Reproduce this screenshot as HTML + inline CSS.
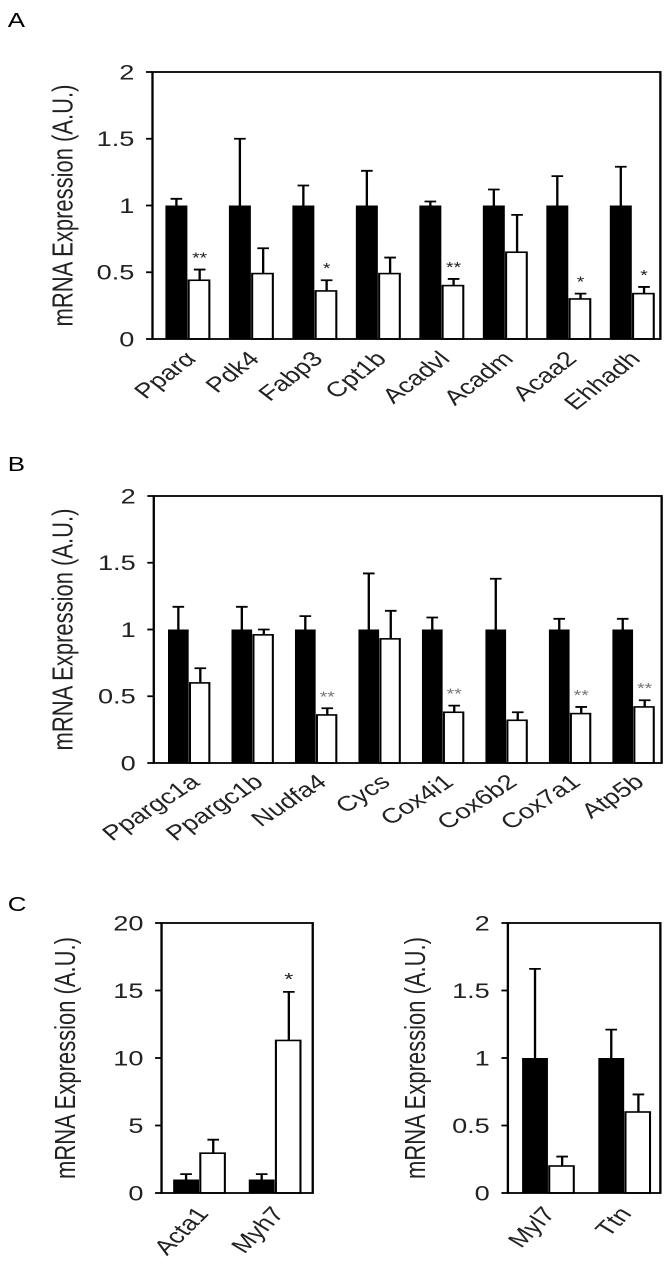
<!DOCTYPE html>
<html><head><meta charset="utf-8"><style>
body{margin:0;background:#fff;}
svg{display:block;font-family:"Liberation Sans",sans-serif;}
</style></head><body>
<svg id="fig" width="672" height="1271" viewBox="0 0 520 1271" preserveAspectRatio="none">
<text x="6" y="27" font-size="20">A</text>
<text x="6" y="471" font-size="20">B</text>
<text x="6" y="911" font-size="20">C</text>
</svg>
<script>
const catsA = ["Ppar\u03b1","Pdk4","Fabp3","Cpt1b","Acadvl","Acadm","Acaa2","Ehhadh"];
const ctrlA = [1,1,1,1,1,1,1,1];
const ctrlErrA = [1.05,1.5,1.15,1.26,1.03,1.12,1.22,1.29];
const koA = [0.44,0.49,0.36,0.49,0.40,0.65,0.30,0.34];
const koErrA = [0.52,0.68,0.44,0.61,0.45,0.93,0.34,0.39];
const sigA = ["**","","*","","**","","*","*"];
const ticksA = [0,0.5,1,1.5,2];
const tickLabelsA = ["0","0.5","1","1.5","2"];

const catsB = ["Ppargc1a","Ppargc1b","Nudfa4","Cycs","Cox4i1","Cox6b2","Cox7a1","Atp5b"];
const ctrlB = [1,1,1,1,1,1,1,1];
const ctrlErrB = [1.17,1.17,1.10,1.42,1.09,1.38,1.08,1.08];
const koB = [0.60,0.96,0.36,0.93,0.38,0.32,0.37,0.42];
const koErrB = [0.71,1.00,0.41,1.14,0.43,0.38,0.42,0.47];
const sigB = ["","","**","","**","","**","**"];

const catsC1 = ["Acta1","Myh7"];
const ctrlC1 = [1,1];
const ctrlErrC1 = [1.4,1.4];
const koC1 = [2.95,11.3];
const koErrC1 = [3.95,14.9];
const sigC1 = ["","*"];
const ticksC1 = [0,5,10,15,20];
const tickLabelsC1 = ["0","5","10","15","20"];

const catsC2 = ["Myl7","Ttn"];
const ctrlC2 = [1,1];
const ctrlErrC2 = [1.66,1.21];
const koC2 = [0.20,0.60];
const koErrC2 = [0.27,0.73];
const sigC2 = ["",""];

const NS="http://www.w3.org/2000/svg";
const svg=document.getElementById('fig');
function mk(tag,attrs,parent){const e=document.createElementNS(NS,tag);for(const k in attrs)e.setAttribute(k,attrs[k]);(parent||svg).appendChild(e);return e;}

function chart(cfg){
  const g=mk('g',{});
  
  
  const {x0,x1,y0,y1,ymax}=cfg;
  const yS=v=>y1-(v/ymax)*(y1-y0);
  const n=cfg.cats.length, gw=(x1-x0)/n;
  cfg.ticks.forEach((t,i)=>{
    const y=yS(t);
    const tk=mk('line',{x1:x0-5,x2:x0,y1:y,y2:y,stroke:'#000','stroke-width':1.8},g);
    
    
    const tl=mk('text',{x:x0-14,y:y+7.5,'font-size':21,'text-anchor':'end',fill:'#222'},g);
    tl.textContent=cfg.tickLabels[i];
    
    
  });
  const tt=mk('text',{x:0,y:0,'font-size':22,'text-anchor':'middle',fill:'#222',transform:`translate(${cfg.titleX},${(y0+y1)/2}) rotate(-90)`},g);
  tt.textContent='mRNA Expression (A.U.)';
  
  
  cfg.cats.forEach((c,i)=>{
    const gx=x0+gw*i;
    const bx=gx+cfg.off, wx=bx+cfg.bw+1;
    const ey=yS(cfg.ctrlErr[i]);
    const e1=mk('path',{d:`M${bx+cfg.bw/2} ${yS(cfg.ctrl[i])} V${ey} M${bx+cfg.bw/2-4.5} ${ey} H${bx+cfg.bw/2+4.5}`,stroke:'#000','stroke-width':1.8,fill:'none'},g);
    
    
    const b1=mk('rect',{x:bx,y:yS(cfg.ctrl[i]),width:cfg.bw,height:y1-yS(cfg.ctrl[i]),fill:'#000'},g);
    
    
    const ey2=yS(cfg.koErr[i]);
    const e2=mk('path',{d:`M${wx+cfg.bw/2} ${yS(cfg.ko[i])} V${ey2} M${wx+cfg.bw/2-4.5} ${ey2} H${wx+cfg.bw/2+4.5}`,stroke:'#000','stroke-width':1.8,fill:'none'},g);
    
    
    const b2=mk('rect',{x:wx,y:yS(cfg.ko[i]),width:cfg.bw-1,height:y1-yS(cfg.ko[i]),fill:'#fff',stroke:'#000','stroke-width':1.6},g);
    
    
    if(cfg.sig[i]){
      const s=mk('text',{x:wx+cfg.bw/2,y:ey2-7,'font-size':cfg.sigSize,'text-anchor':'middle',fill:cfg.sigColor},g);
      s.textContent=cfg.sig[i];
      
      
    }
    const lx=gx+gw/2+cfg.lblDx, ly=y1+cfg.lblDy;
    const l=mk('text',{x:0,y:0,'font-size':cfg.lblSize,'text-anchor':'end',fill:'#222',transform:`translate(${lx},${ly}) rotate(${cfg.rot})`},g);
    l.textContent=c;
    
    
  });
  const fr=mk('rect',{x:x0,y:y0,width:x1-x0,height:y1-y0,fill:'none',stroke:'#000','stroke-width':1.8},g);
  
  
}

chart({name:'chart-a',cats:catsA,ctrl:ctrlA,ctrlErr:ctrlErrA,ko:koA,koErr:koErrA,sig:sigA,ticks:ticksA,tickLabels:tickLabelsA,
  x0:118,x1:511,y0:72,y1:339,ymax:2,off:10,bw:17,titleX:56,lblDx:10,lblDy:21,lblSize:21,rot:-45,sigColor:'#222',sigSize:15});
chart({name:'chart-b',cats:catsB,ctrl:ctrlB,ctrlErr:ctrlErrB,ko:koB,koErr:koErrB,sig:sigB,ticks:ticksA,tickLabels:tickLabelsA,
  x0:119,x1:512,y0:496,y1:763,ymax:2,off:11,bw:16,titleX:56,lblDx:12,lblDy:21,lblSize:21,rot:-40,sigColor:'#777',sigSize:15});
chart({name:'chart-c-left',cats:catsC1,ctrl:ctrlC1,ctrlErr:ctrlErrC1,ko:koC1,koErr:koErrC1,sig:sigC1,ticks:ticksC1,tickLabels:tickLabelsC1,
  x0:125,x1:242,y0:923,y1:1193,ymax:20,off:9,bw:20,titleX:58,lblDx:8,lblDy:21,lblSize:21,rot:-52,sigColor:'#222',sigSize:18});
chart({name:'chart-c-right',cats:catsC2,ctrl:ctrlC2,ctrlErr:ctrlErrC2,ko:koC2,koErr:koErrC2,sig:sigC2,ticks:ticksA,tickLabels:tickLabelsA,
  x0:393,x1:511,y0:923,y1:1193,ymax:2,off:11,bw:20,titleX:329,lblDx:8,lblDy:21,lblSize:21,rot:-52,sigColor:'#222',sigSize:18});
</script>
</body></html>
